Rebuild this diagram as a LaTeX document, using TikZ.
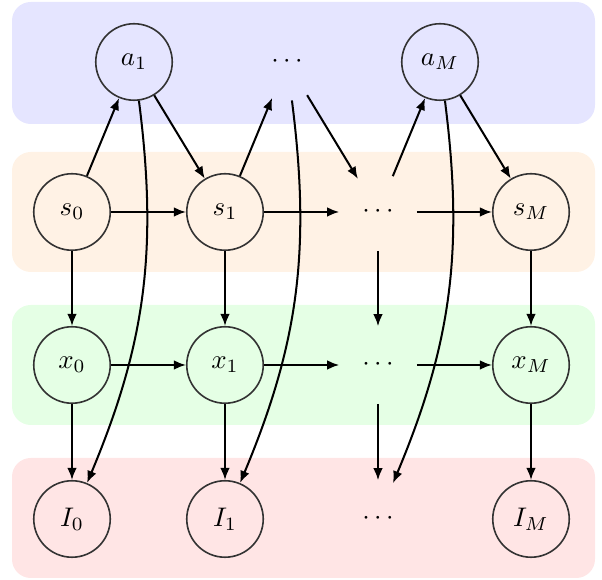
\documentclass[tikz,border=0pt]{standalone}
\usetikzlibrary{arrows.meta}
\begin{document}
\begin{tikzpicture}[x=0.01307cm,y=-0.01307cm,
  var/.style={circle,draw=black!80,semithick,minimum size=1cm,inner sep=0pt},
  dotsnode/.style={circle,minimum size=1cm,inner sep=0pt},
  band/.style={rounded corners=7pt},
  edge/.style={-{Latex[length=4.5pt,width=3.6pt]},line width=0.75pt,black}]
\useasboundingbox (0,0) rectangle (602,580);
% bands
\fill[band,blue!10] (12,2) rectangle (595,124);
\fill[band,orange!10] (12,152) rectangle (595,272);
\fill[band,green!10] (12,305) rectangle (595,425);
\fill[band,red!10] (12,458) rectangle (595,578);
% nodes
\node[var] (a1) at (134,62) {$a_1$};
\node[dotsnode] (ad) at (287,62) {$\cdots$};
\node[var] (aM) at (440,62) {$a_M$};
\node[var] (s0) at (72,212) {$s_0$};
\node[var] (s1) at (225,212) {$s_1$};
\node[dotsnode] (sd) at (378,212) {$\cdots$};
\node[var] (sM) at (531,212) {$s_M$};
\node[var] (x0) at (72,365) {$x_0$};
\node[var] (x1) at (225,365) {$x_1$};
\node[dotsnode] (xd) at (378,365) {$\cdots$};
\node[var] (xM) at (531,365) {$x_M$};
\node[var] (I0) at (72,519) {$I_0$};
\node[var] (I1) at (225,519) {$I_1$};
\node[dotsnode] (Id) at (378,519) {$\cdots$};
\node[var] (IM) at (531,519) {$I_M$};
% edges
\draw[edge] (s0) -- (a1);
\draw[edge] (a1) -- (s1);
\draw[edge] (s1) -- (ad);
\draw[edge] (ad) -- (sd);
\draw[edge] (sd) -- (aM);
\draw[edge] (aM) -- (sM);
\draw[edge] (s0) -- (s1);
\draw[edge] (s1) -- (sd);
\draw[edge] (sd) -- (sM);
\draw[edge] (x0) -- (x1);
\draw[edge] (x1) -- (xd);
\draw[edge] (xd) -- (xM);
\draw[edge] (s0) -- (x0);
\draw[edge] (s1) -- (x1);
\draw[edge] (sd) -- (xd);
\draw[edge] (sM) -- (xM);
\draw[edge] (x0) -- (I0);
\draw[edge] (x1) -- (I1);
\draw[edge] (xd) -- (Id);
\draw[edge] (xM) -- (IM);
\draw[edge] (a1) to[bend left=15] (I0);
\draw[edge] (ad) to[bend left=15] (I1);
\draw[edge] (aM) to[bend left=15] (Id);
\end{tikzpicture}
\end{document}
